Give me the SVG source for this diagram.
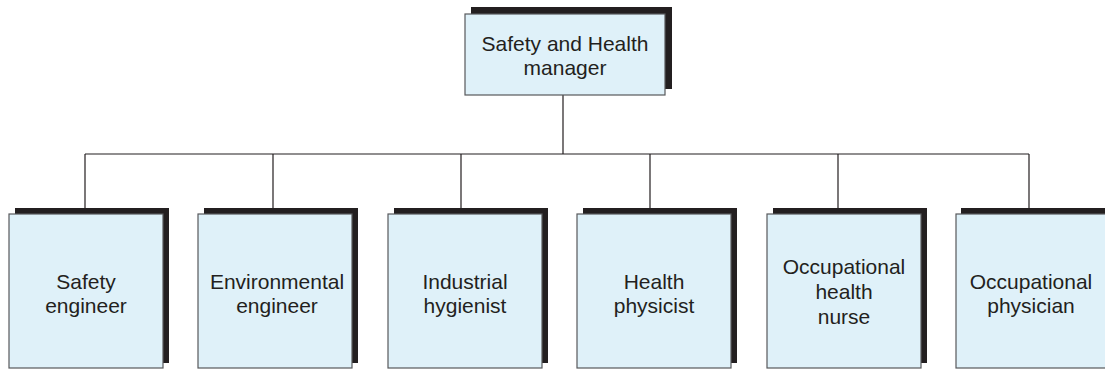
<svg xmlns="http://www.w3.org/2000/svg" width="1105" height="370" viewBox="0 0 1105 370">
<defs>
<style>
.sh{fill:#231f20}
.face{fill:#dff1f9;stroke:#58595b;stroke-width:1.2}
.t{font-family:"Liberation Sans",Arial,sans-serif;font-size:21px;fill:#231f20;text-anchor:middle}
.c{stroke:#231f20;stroke-width:1.2;fill:none}
</style>
</defs>
<rect width="1105" height="370" fill="#ffffff"/>
<g id="connectors">
<path class="c" d="M563 95V154M85 154H1029M85 154V208M273 154V208M461 154V208M650 154V208M838 154V208M1029 154V208"/>
</g>
<g id="manager">
<rect class="sh" x="471" y="7" width="201" height="82"/>
<rect class="face" x="465" y="14" width="200" height="81"/>
<text class="t" x="565" y="51">Safety and Health</text>
<text class="t" x="565" y="75">manager</text>
</g>
<g id="safety-engineer">
<rect class="sh" x="15" y="208" width="154" height="155"/>
<rect class="face" x="9" y="214" width="154" height="154"/>
<text class="t" x="86" y="289">Safety</text>
<text class="t" x="86" y="313">engineer</text>
</g>
<g id="environmental-engineer">
<rect class="sh" x="204" y="208" width="154" height="155"/>
<rect class="face" x="198" y="214" width="154" height="154"/>
<text class="t" x="277" y="289">Environmental</text>
<text class="t" x="277" y="313">engineer</text>
</g>
<g id="industrial-hygienist">
<rect class="sh" x="394" y="208" width="154" height="155"/>
<rect class="face" x="388" y="214" width="154" height="154"/>
<text class="t" x="465" y="289">Industrial</text>
<text class="t" x="465" y="313">hygienist</text>
</g>
<g id="health-physicist">
<rect class="sh" x="583" y="208" width="154" height="155"/>
<rect class="face" x="577" y="214" width="154" height="154"/>
<text class="t" x="654" y="289">Health</text>
<text class="t" x="654" y="313">physicist</text>
</g>
<g id="occupational-health-nurse">
<rect class="sh" x="773" y="208" width="154" height="155"/>
<rect class="face" x="767" y="214" width="154" height="154"/>
<text class="t" x="844" y="274">Occupational</text>
<text class="t" x="844" y="299">health</text>
<text class="t" x="844" y="324">nurse</text>
</g>
<g id="occupational-physician">
<rect class="sh" x="961" y="208" width="154" height="155"/>
<rect class="face" x="956" y="214" width="154" height="154"/>
<text class="t" x="1031" y="289">Occupational</text>
<text class="t" x="1031" y="313">physician</text>
</g>
</svg>
